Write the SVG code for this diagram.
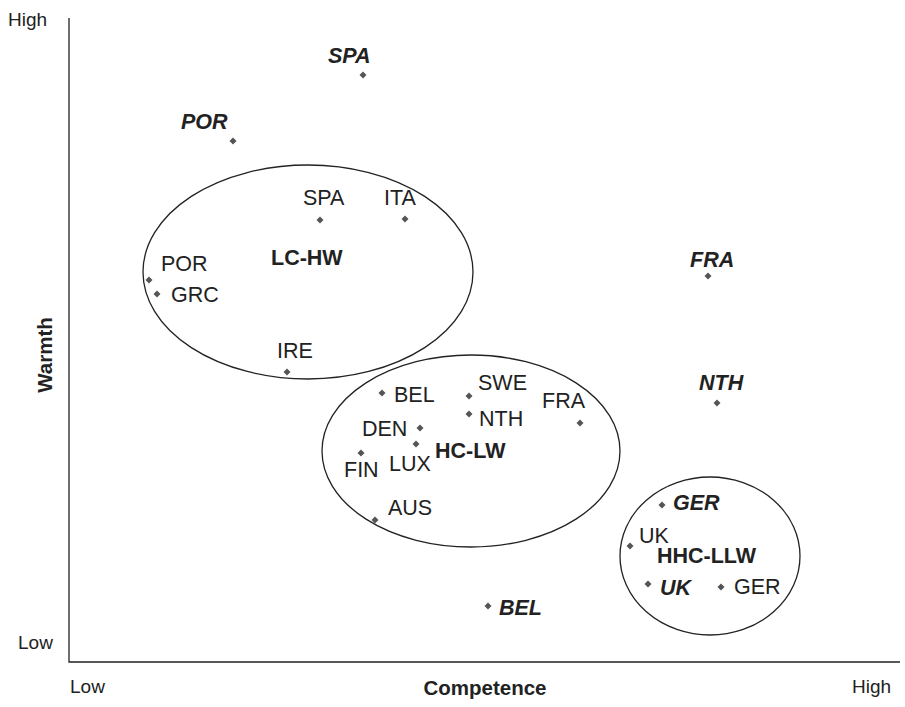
<svg xmlns="http://www.w3.org/2000/svg" width="905" height="707" viewBox="0 0 905 707">
<style>
text{font-family:"Liberation Sans",Arial,sans-serif;font-size:21.5px;fill:#222}
.b{font-weight:bold}.bi{font-weight:bold;font-style:italic}
.s{font-size:19px}
.e{fill:none;stroke:#222;stroke-width:1.3}
.d{fill:#555}
</style>
<defs><path id="dm" d="M0,-3.5L3.5,0L0,3.5L-3.5,0Z" class="d"/></defs>
<rect width="905" height="707" fill="#fff"/>
<g id="axes" stroke="#222" stroke-width="1.3" fill="none"><path d="M69,18V662H900"/></g>
<text class="s" x="8" y="26">High</text><text class="s" x="18" y="649">Low</text>
<text class="s" x="70" y="693">Low</text><text class="s" x="852" y="693">High</text>
<text class="b" x="485" y="695" text-anchor="middle" style="font-size:20.5px">Competence</text>
<text class="b" x="0" y="0" text-anchor="middle" transform="translate(52,355) rotate(-90)" style="font-size:20.5px">Warmth</text>
<g id="clusters">
<g id="lchw"><ellipse class="e" cx="308" cy="272" rx="165" ry="107"/><text class="b" x="271" y="265">LC-HW</text></g>
<g id="hclw"><ellipse class="e" cx="471" cy="451" rx="149" ry="96"/><text class="b" x="435" y="458">HC-LW</text></g>
<g id="hhcllw"><ellipse class="e" cx="710" cy="556" rx="90" ry="79"/><text class="b" x="657" y="563">HHC-LLW</text></g>
</g>
<g id="points">
<use href="#dm" x="363" y="75"/><text class="bi" x="328" y="63">SPA</text>
<use href="#dm" x="233" y="141"/><text class="bi" x="181" y="129">POR</text>
<use href="#dm" x="320" y="220"/><text x="303" y="205">SPA</text>
<use href="#dm" x="405" y="219"/><text x="384" y="205">ITA</text>
<use href="#dm" x="149" y="280"/><text x="161" y="271">POR</text>
<use href="#dm" x="157" y="294"/><text x="171" y="302">GRC</text>
<use href="#dm" x="287" y="372"/><text x="277" y="358">IRE</text>
<use href="#dm" x="708" y="276"/><text class="bi" x="690" y="267">FRA</text>
<use href="#dm" x="717" y="403"/><text class="bi" x="699" y="390">NTH</text>
<use href="#dm" x="382" y="393"/><text x="394" y="402">BEL</text>
<use href="#dm" x="469" y="396"/><text x="478" y="390">SWE</text>
<use href="#dm" x="469" y="414"/><text x="479" y="426">NTH</text>
<use href="#dm" x="580" y="423"/><text x="542" y="408">FRA</text>
<use href="#dm" x="420" y="428"/><text x="362" y="436">DEN</text>
<use href="#dm" x="416" y="444"/><text x="389" y="471">LUX</text>
<use href="#dm" x="361" y="453"/><text x="344" y="477">FIN</text>
<use href="#dm" x="375" y="520"/><text x="388" y="515">AUS</text>
<use href="#dm" x="662" y="505"/><text class="bi" x="673" y="510">GER</text>
<use href="#dm" x="630" y="546"/><text x="639" y="543">UK</text>
<use href="#dm" x="648" y="584"/><text class="bi" x="660" y="595">UK</text>
<use href="#dm" x="721" y="587"/><text x="734" y="594">GER</text>
<use href="#dm" x="488" y="606"/><text class="bi" x="499" y="615">BEL</text>
</g>
</svg>
